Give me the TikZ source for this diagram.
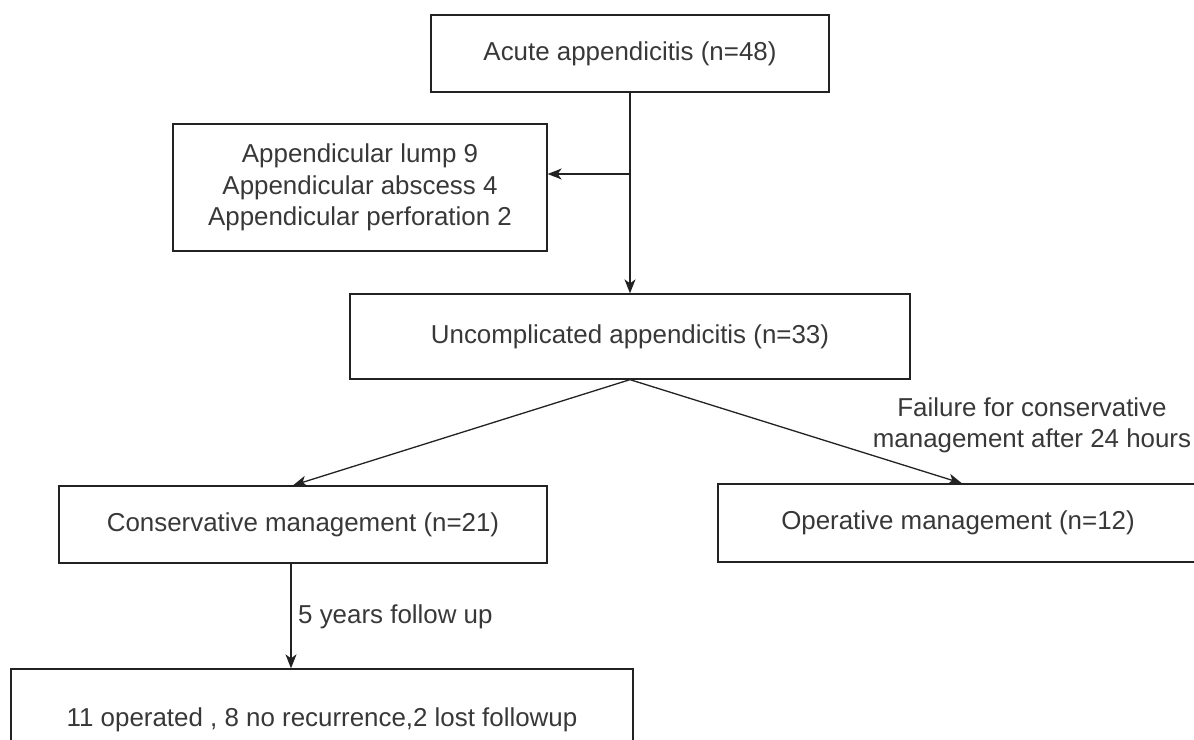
\documentclass[tikz,border=0pt]{standalone}
\usepackage{fontspec}
\setmainfont{Liberation Sans}
\usetikzlibrary{arrows.meta}
\definecolor{linec}{HTML}{222222}
\definecolor{txtc}{HTML}{383838}
\begin{document}
\begin{tikzpicture}[x=1bp,y=-1bp,
  box/.style={draw=linec, line width=1.3bp, inner sep=0pt, text=txtc,
    font=\fontsize{26}{31.5}\selectfont, align=center},
  arr/.style={draw=linec, line width=1.3bp, -{Stealth[length=14bp,width=11bp,inset=4bp]}},
  ln/.style={draw=linec, line width=1.3bp},
  lbl/.style={text=txtc, inner sep=0pt, font=\fontsize{26}{31.5}\selectfont, align=center}]
\useasboundingbox (0,0) rectangle (1194,740);
\node[box, minimum width=398bp, minimum height=77bp] (acute) at (630,53.5) {Acute appendicitis (n=48)};
\node[box, minimum width=374bp, minimum height=127bp] (compl) at (360,187.5)
  {Appendicular lump 9\\Appendicular abscess 4\\Appendicular perforation 2};
\node[box, minimum width=560bp, minimum height=85bp] (uncomp) at (630,336.5) {Uncomplicated appendicitis (n=33)};
\node[box, minimum width=488bp, minimum height=77bp] (cons) at (303,524.5) {Conservative management (n=21)};
\node[box, minimum width=480bp, minimum height=78bp] (oper) at (958,523) {Operative management (n=12)};
\node[box, minimum width=622bp, minimum height=101bp] (result) at (322,719.5) {11 operated , 8 no recurrence,2 lost followup};
% connectors
\draw[arr] (acute.south) -- (uncomp.north);
\coordinate (junc) at (630,174);
\draw[arr] (junc) -- (junc -| compl.east);
\coordinate (constop) at (293,0);
\coordinate (opertop) at (962,0);
\draw[arr] (uncomp.south) -- (constop |- cons.north);
\draw[arr] (uncomp.south) -- (opertop |- oper.north);
\coordinate (consdown) at (291,0);
\draw[arr] (consdown |- cons.south) -- (consdown |- result.north);
% labels
\node[lbl, anchor=west] (follow) at (298,617) {5 years follow up};
\node[lbl] (failure) at (1032,425) {Failure for conservative\\management after 24 hours};
\end{tikzpicture}
\end{document}
